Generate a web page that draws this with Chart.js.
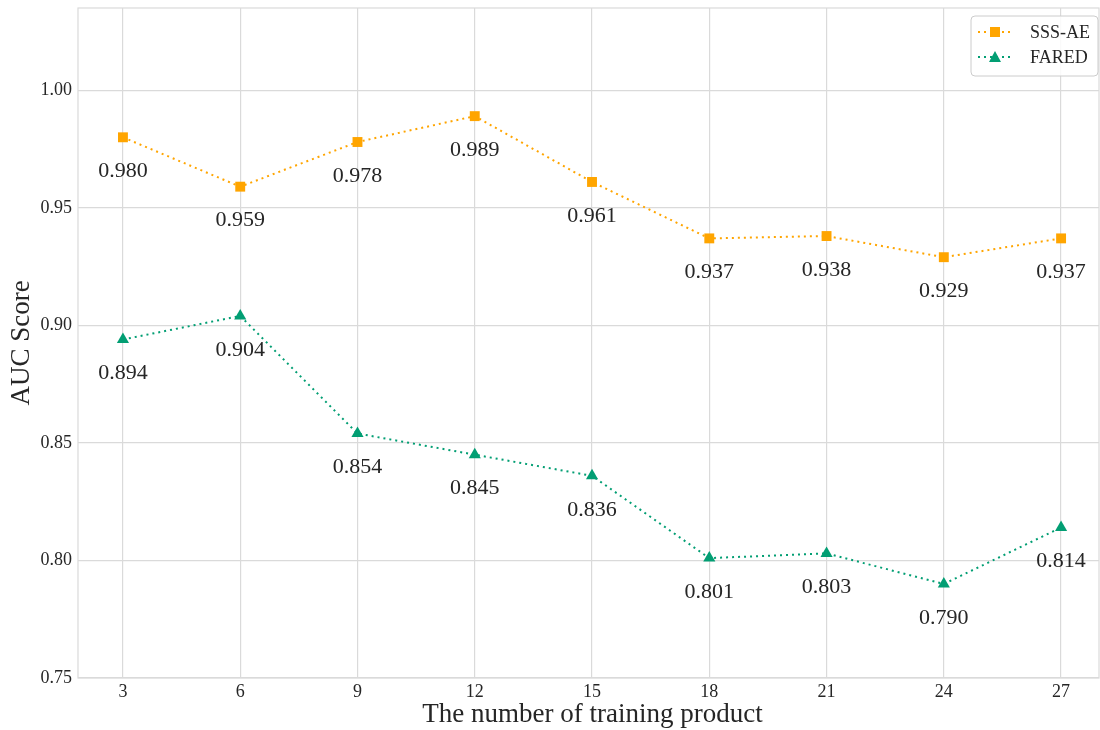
<!DOCTYPE html>
<html>
<head>
<meta charset="utf-8">
<script src="https://cdn.jsdelivr.net/npm/chart.js@4.4.1/dist/chart.umd.min.js"></script>
<style>
  html, body { margin: 0; padding: 0; background: #ffffff; }
  #wrap { width: 1100px; height: 730px; }
</style>
</head>
<body>
<div id="wrap"><canvas id="c" width="1100" height="730"></canvas></div>
<script>
// Number of training products on the x axis
const trainingCounts = [3, 6, 9, 12, 15, 18, 21, 24, 27];
// AUC scores per method
const sssAeScores = [0.980, 0.959, 0.978, 0.989, 0.961, 0.937, 0.938, 0.929, 0.937];
const faredScores = [0.894, 0.904, 0.854, 0.845, 0.836, 0.801, 0.803, 0.790, 0.814];
const yTicks = [0.75, 0.80, 0.85, 0.90, 0.95, 1.00];
const seriesNames = ['SSS-AE', 'FARED'];

const ORANGE = '#ffa500';
const GREEN = '#029e73';
const GRID = '#dadada';
const TEXT = '#262626';
const SERIF = '"Liberation Serif", "DejaVu Serif", serif';
const DOTS = [2, 4];

function toPoints(vals) {
  return trainingCounts.map((x, i) => ({ x: x, y: vals[i] }));
}

// Remove the label overhang padding so the plot fills the frame
function noPadding(scale) {
  scale.paddingTop = 0;
  scale.paddingBottom = 0;
  scale.paddingLeft = 0;
  scale.paddingRight = 0;
}

// Value labels under each marker, frame, axis titles and legend box
const decorations = {
  id: 'decorations',
  afterDatasetsDraw(chart) {
    const ctx = chart.ctx;
    ctx.save();
    ctx.font = '22px ' + SERIF;
    ctx.fillStyle = TEXT;
    ctx.textAlign = 'center';
    ctx.textBaseline = 'middle';
    chart.data.datasets.forEach((ds, di) => {
      const meta = chart.getDatasetMeta(di);
      meta.data.forEach((pt, i) => {
        ctx.fillText(ds.data[i].y.toFixed(3), pt.x, pt.y + 34);
      });
    });
    ctx.restore();
  },
  afterDraw(chart) {
    const ctx = chart.ctx;
    const area = chart.chartArea;
    ctx.save();
    // frame around the plot
    ctx.strokeStyle = GRID;
    ctx.lineWidth = 1.2;
    ctx.strokeRect(area.left, area.top, area.right - area.left, area.bottom - area.top);

    // axis titles
    ctx.fillStyle = TEXT;
    ctx.font = '27px ' + SERIF;
    ctx.textAlign = 'center';
    ctx.textBaseline = 'middle';
    ctx.fillText('The number of training product', (area.left + area.right) / 2 + 4, 715);
    ctx.save();
    ctx.translate(22, (area.top + area.bottom) / 2);
    ctx.rotate(-Math.PI / 2);
    ctx.fillText('AUC Score', 0, 0);
    ctx.restore();

    // legend
    const bx = 971, by = 16, bw = 127, bh = 60, r = 4;
    ctx.beginPath();
    ctx.moveTo(bx + r, by);
    ctx.arcTo(bx + bw, by, bx + bw, by + bh, r);
    ctx.arcTo(bx + bw, by + bh, bx, by + bh, r);
    ctx.arcTo(bx, by + bh, bx, by, r);
    ctx.arcTo(bx, by, bx + bw, by, r);
    ctx.closePath();
    ctx.fillStyle = 'rgba(255,255,255,0.85)';
    ctx.fill();
    ctx.strokeStyle = '#cccccc';
    ctx.lineWidth = 1;
    ctx.stroke();

    const rows = [
      { name: seriesNames[0], color: ORANGE, y: 32, marker: 'rect' },
      { name: seriesNames[1], color: GREEN, y: 57, marker: 'triangle' }
    ];
    rows.forEach(row => {
      ctx.strokeStyle = row.color;
      ctx.lineWidth = 2;
      ctx.setLineDash(DOTS);
      ctx.beginPath();
      ctx.moveTo(978, row.y);
      ctx.lineTo(1013, row.y);
      ctx.stroke();
      ctx.setLineDash([]);
      ctx.fillStyle = row.color;
      if (row.marker === 'rect') {
        ctx.fillRect(990, row.y - 5, 10, 10);
      } else {
        ctx.beginPath();
        ctx.moveTo(995, row.y - 6);
        ctx.lineTo(1001, row.y + 5);
        ctx.lineTo(989, row.y + 5);
        ctx.closePath();
        ctx.fill();
      }
      ctx.fillStyle = TEXT;
      ctx.font = '18px ' + SERIF;
      ctx.textAlign = 'left';
      ctx.textBaseline = 'middle';
      ctx.fillText(row.name, 1030, row.y + 1);
    });
    ctx.restore();
  }
};

new Chart(document.getElementById('c'), {
  type: 'line',
  data: {
    datasets: [
      {
        label: seriesNames[0],
        data: toPoints(sssAeScores),
        borderColor: ORANGE,
        backgroundColor: ORANGE,
        borderWidth: 2,
        borderDash: DOTS,
        pointStyle: 'rect',
        pointRadius: 7,
        pointBorderWidth: 0,
        tension: 0
      },
      {
        label: seriesNames[1],
        data: toPoints(faredScores),
        borderColor: GREEN,
        backgroundColor: GREEN,
        borderWidth: 2,
        borderDash: DOTS,
        pointStyle: 'triangle',
        pointRadius: 7,
        pointBorderWidth: 0,
        tension: 0
      }
    ]
  },
  options: {
    responsive: false,
    animation: false,
    devicePixelRatio: 1,
    layout: { autoPadding: false, padding: { top: 8, right: 1, left: 0, bottom: 0 } },
    plugins: {
      legend: { display: false },
      tooltip: { enabled: false }
    },
    scales: {
      x: {
        type: 'linear',
        min: 1.85,
        max: 27.97,
        afterBuildTicks(scale) {
          scale.ticks = trainingCounts.map(v => ({ value: v }));
        },
        afterFit(scale) { scale.height = 52; noPadding(scale); },
        grid: { color: GRID, lineWidth: 1.2, drawTicks: false },
        border: { display: false },
        ticks: {
          padding: 3,
          color: TEXT,
          font: { family: SERIF, size: 18 },
          callback: v => String(v)
        }
      },
      y: {
        min: 0.75,
        max: 1.035,
        afterBuildTicks(scale) {
          scale.ticks = yTicks.map(v => ({ value: v }));
        },
        afterFit(scale) { scale.width = 78; noPadding(scale); },
        grid: { color: GRID, lineWidth: 1.2, drawTicks: false },
        border: { display: false },
        ticks: {
          padding: 6,
          color: TEXT,
          font: { family: SERIF, size: 18 },
          callback: v => v.toFixed(2)
        }
      }
    }
  },
  plugins: [decorations]
});
</script>
</body>
</html>
